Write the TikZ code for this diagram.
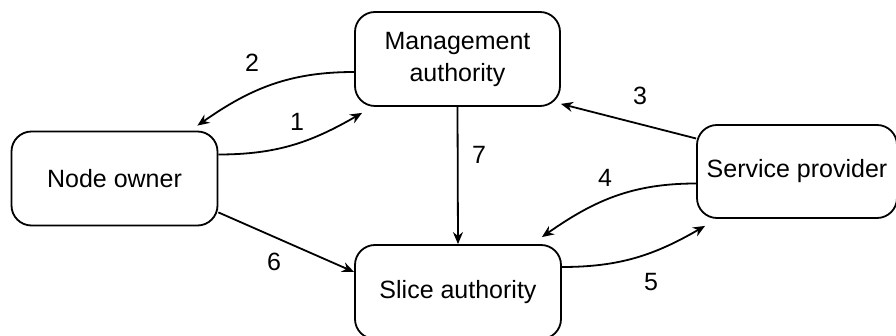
\documentclass[tikz,border=0pt]{standalone}
\usepackage{fontspec}
\setmainfont{Liberation Sans}
\usetikzlibrary{arrows.meta}

\begin{document}
\begin{tikzpicture}[x=0.5pt, y=-0.5pt, >={Stealth[length=6pt,width=5pt]},
    every node/.style={font=\fontsize{12.5}{16}\selectfont},
    party/.style={draw, line width=0.9pt, rounded corners=10pt, align=center, inner sep=2pt},
    flow/.style={->, line width=0.9pt}]

    \useasboundingbox (0,0) rectangle (896,336);

    % ==================== 四个参与方 ====================
    \node[party, minimum width=103pt, minimum height=47pt] (no) at (114.5,178.5) {Node owner};
    \node[party, minimum width=102.5pt, minimum height=47pt] (ma) at (457.5,59) {Management\\authority};
    \node[party, minimum width=103pt, minimum height=47pt] (sa) at (458,292) {Slice authority};
    \node[party, minimum width=100pt, minimum height=46.5pt] (sp) at (797,171.5) {Service provider};

    % ==================== 交互步骤 ====================
    % Node owner <-> Management authority
    \draw[flow] ([yshift=12pt]no.east) to[out=0, in=210] ([xshift=4pt,yshift=-3pt]ma.south west);
    \draw[flow] ([yshift=-6.5pt]ma.west) to[out=180, in=35] ([xshift=-10.5pt,yshift=2.5pt]no.north east);

    % Service provider -> Management authority
    \draw[flow] ([yshift=16.5pt]sp.west) -- ([yshift=1.5pt]ma.south east);

    % Service provider <-> Slice authority
    \draw[flow] ([yshift=-6pt]sp.west) to[out=180, in=35] ([xshift=-10pt,yshift=3.5pt]sa.north east);
    \draw[flow] ([yshift=12.5pt]sa.east) to[out=0, in=210] ([xshift=4.5pt,yshift=-3.5pt]sp.south west);

    % Node owner -> Slice authority, Management authority -> Slice authority
    \draw[flow] ([yshift=7pt]no.south east) -- ([yshift=10pt]sa.west);
    \draw[flow] (ma.south) -- (sa.north);

    % 步骤编号
    \node (l1) at (297,122) {1};
    \node (l2) at (252,63) {2};
    \node (l3) at (640,96) {3};
    \node (l4) at (605,178) {4};
    \node (l5) at (651,282) {5};
    \node (l6) at (274,262) {6};
    \node (l7) at (479,155) {7};

\end{tikzpicture}
\end{document}
